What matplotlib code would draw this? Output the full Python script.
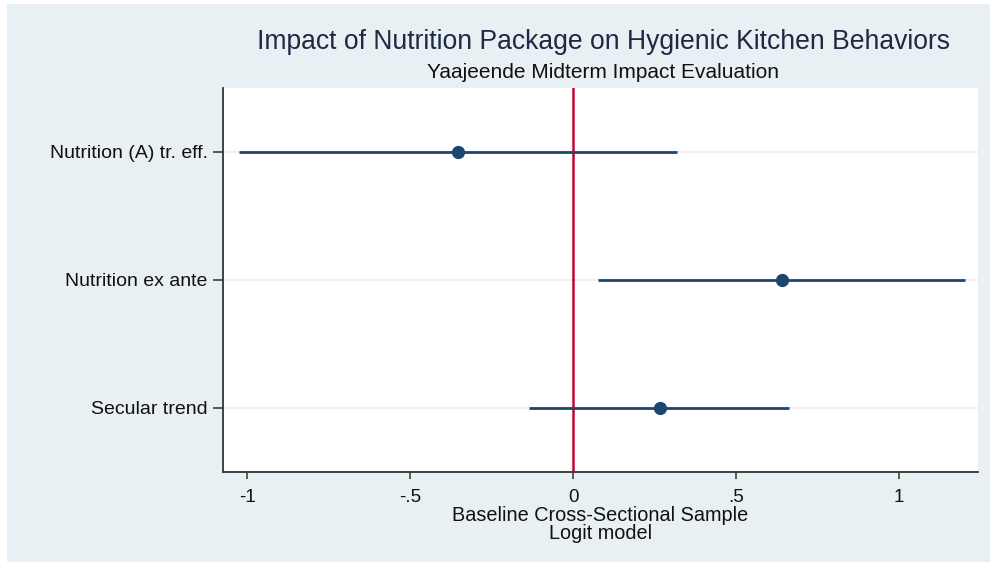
"""Coefficient plot: nutrition package impact on hygienic kitchen behaviors."""

import matplotlib as mpl

mpl.use("Agg")
import matplotlib.pyplot as plt
from matplotlib.patches import Rectangle
from matplotlib import rcParams

rcParams.update({"font.family": ["Liberation Sans", "DejaVu Sans"]})

# logit coefficients with 95% confidence bounds
terms = ["Nutrition (A) tr. eff.", "Nutrition ex ante", "Secular trend"]
coef = [-0.353, 0.641, 0.267]
ci_low = [-1.025, 0.077, -0.135]
ci_high = [0.319, 1.202, 0.663]

x_ticks = [-1, -0.5, 0, 0.5, 1]
x_ticklabels = ["-1", "-.5", "0", ".5", "1"]

NAVY = "#1a476f"
BG = "#e8f0f3"

fig = plt.figure(figsize=(9.97, 5.62), dpi=100, facecolor="white")
W, H = 997, 562

# light graph region behind everything, leaving a thin white margin
fig.patches.append(
    Rectangle((7 / W, 0), (990 - 7) / W, (562 - 4) / H,
              transform=fig.transFigure, facecolor=BG, edgecolor="none",
              zorder=-5)
)

ax = fig.add_axes([223 / W, (H - 472) / H, (978 - 223) / W, (472 - 88) / H])
ax.set_facecolor("white")

rows = list(range(1, len(terms) + 1))

for y, lo, hi, c in zip(rows, ci_low, ci_high, coef):
    ax.plot([lo, hi], [y, y], color=NAVY, lw=2, solid_capstyle="butt", zorder=3)
    ax.plot(c, y, "o", color=NAVY, markersize=8.5, zorder=4)

ax.axvline(0, color="#c10534", lw=1.8, zorder=2)

ax.set_xlim(-1.074, 1.242)
ax.set_ylim(3.5, 0.5)

ax.set_yticks(rows)
ax.set_yticklabels(terms, fontsize=14)
ax.set_xticks(x_ticks)
ax.set_xticklabels(x_ticklabels, fontsize=13.5)

ax.grid(True, axis="y", color="#eeeeee", lw=1.2, zorder=1)
ax.set_axisbelow(True)

for side in ("top", "right"):
    ax.spines[side].set_visible(False)
for side in ("left", "bottom"):
    ax.spines[side].set_color("#333333")
    ax.spines[side].set_linewidth(1.3)

ax.tick_params(axis="both", direction="out", width=1.1,
               color="#333333", labelcolor="#111111")
ax.tick_params(axis="y", length=7, pad=4)
ax.tick_params(axis="x", length=5, pad=7.5)

ax.set_xlabel("Baseline Cross-Sectional Sample\nLogit model", fontsize=14.3,
              color="#111111", labelpad=0, linespacing=0.9)

fig.text(603 / W, 1 - 42 / H,
         "Impact of Nutrition Package on Hygienic Kitchen Behaviors",
         ha="center", va="center", fontsize=19.1, color="#1e2a44")
fig.text(603 / W, 1 - 73 / H, "Yaajeende Midterm Impact Evaluation",
         ha="center", va="center", fontsize=15, color="#111111")

plt.savefig("out.png", dpi=100, facecolor=fig.get_facecolor())
